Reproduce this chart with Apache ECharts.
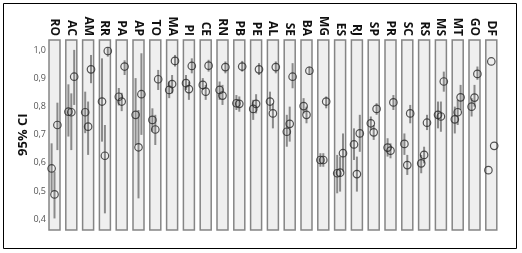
<!DOCTYPE html>
<html>
<head>
<meta charset="utf-8">
<script src="https://cdn.jsdelivr.net/npm/echarts@6/dist/echarts.min.js"></script>
<style>
html,body{margin:0;padding:0;background:#fff;}
#chart{width:522px;height:253px;}
</style>
</head>
<body>
<div id="chart"></div>
<script>
// Panel (state) labels
const states = ['RO','AC','AM','RR','PA','AP','TO','MA','PI','CE','RN','PB','PE','AL','SE','BA','MG','ES','RJ','SP','PR','SC','RS','MS','MT','GO','DF'];

// Point 1 (left) estimates and 95% CI
const est1 = [0.580,0.781,0.779,0.817,0.834,0.770,0.752,0.858,0.882,0.876,0.858,0.811,0.791,0.817,0.710,0.801,0.610,0.563,0.665,0.740,0.654,0.667,0.598,0.770,0.754,0.799,0.574];
const lo1  = [0.498,0.693,0.705,0.675,0.803,0.663,0.710,0.829,0.858,0.858,0.823,0.787,0.752,0.787,0.657,0.775,0.586,0.492,0.610,0.716,0.622,0.628,0.563,0.722,0.704,0.764,null];
const hi1  = [0.669,0.878,0.852,0.970,0.865,0.900,0.793,0.888,0.911,0.900,0.888,0.840,0.823,0.852,0.770,0.829,0.634,0.628,0.722,0.764,0.687,0.704,0.628,0.817,0.799,0.829,null];

// Point 2 (middle) estimates and 95% CI
const est2 = [0.488,0.779,0.728,0.625,0.817,0.655,0.718,0.879,0.861,0.852,0.838,0.809,0.809,0.775,0.738,0.770,0.610,0.565,0.560,0.708,0.643,0.592,0.628,0.764,0.779,0.831,0.959];
const lo2  = [0.403,0.645,0.628,0.421,0.783,0.474,0.663,0.846,0.823,0.823,0.805,0.781,0.775,0.722,0.675,0.740,0.586,0.498,0.498,0.681,0.616,0.557,0.598,0.710,0.734,0.799,null];
const hi2  = [0.569,0.846,0.817,0.734,0.848,0.787,0.770,0.911,0.888,0.876,0.876,0.835,0.843,0.811,0.799,0.799,0.634,0.622,0.622,0.734,0.669,0.628,0.657,0.817,0.823,0.876,null];

// Point 3 (right) estimates and 95% CI
const est3 = [0.734,0.905,0.931,0.996,0.941,0.843,0.896,0.961,0.943,0.944,0.939,0.941,0.931,0.939,0.905,0.926,0.817,0.634,0.704,0.791,0.814,0.775,0.742,0.888,0.832,0.915,0.660];
const lo3  = [0.645,0.805,0.882,0.976,0.911,0.699,0.858,0.941,0.917,0.923,0.917,0.923,0.911,0.917,0.864,0.911,0.793,0.569,0.639,0.770,0.787,0.740,0.716,0.852,0.787,0.894,null];
const hi3  = [0.813,1.000,0.982,1.010,0.963,0.988,0.929,0.982,0.970,0.965,0.959,0.961,0.953,0.959,0.953,0.941,0.835,0.704,0.770,0.811,0.840,0.805,0.770,0.923,0.876,0.941,null];

// Y tick labels
const yTicks = [0.4,0.5,0.6,0.7,0.8,0.9,1.0];

const ests = [est1, est2, est3];
const los = [lo1, lo2, lo3];
const his = [hi1, hi2, hi3];

const chart = echarts.init(document.getElementById('chart'), null, {renderer:'canvas'});

const grids = [], xAxes = [], yAxes = [], series = [];
const FONT = '"Open Sans", "Liberation Sans", sans-serif';
const panelLeft = 49, pitch = 16.8, panelW = 11, panelTop = 40, panelH = 190;
const yMin = 0.362, yMax = 1.035;

states.forEach((st, i) => {
  grids.push({
    left: panelLeft + i * pitch, top: panelTop, width: panelW, height: panelH,
    show: true, backgroundColor: '#efefef', borderColor: '#858585', borderWidth: 1.5
  });
  // header label axis (top)
  xAxes.push({
    gridIndex: i, type: 'category', position: 'top', data: [st],
    axisLine: {show: false}, axisTick: {show: false}, splitLine: {show: false},
    axisLabel: {rotate: 90, margin: 4, fontSize: 12, fontWeight: 'bold', color: '#111', fontFamily: FONT, interval: 0}
  });
  // value axis for points (hidden)
  xAxes.push({
    gridIndex: i, type: 'value', min: -0.9, max: 2.9, show: false
  });
  yAxes.push({
    gridIndex: i, type: 'value', min: yMin, max: yMax, show: false
  });
  const bars = [], pts = [];
  for (let k = 0; k < 3; k++) {
    pts.push([k, ests[k][i]]);
    if (los[k][i] != null && his[k][i] != null) bars.push([k, los[k][i], his[k][i]]);
  }
  series.push({
    type: 'custom', xAxisIndex: 2 * i + 1, yAxisIndex: i, silent: true,
    encode: {x: 0, y: [1, 2]},
    data: bars,
    renderItem: (params, api) => {
      const x = api.value(0);
      const a = api.coord([x, api.value(1)]);
      const b = api.coord([x, api.value(2)]);
      return {type: 'line', shape: {x1: a[0], y1: a[1], x2: b[0], y2: b[1]},
              style: {stroke: '#8a8a8a', lineWidth: 2}};
    },
    z: 2
  });
  series.push({
    type: 'scatter', xAxisIndex: 2 * i + 1, yAxisIndex: i, silent: true,
    data: pts, symbol: 'circle', symbolSize: 7.5,
    itemStyle: {color: 'rgba(255,255,255,0)', borderColor: '#2a2a2a', borderWidth: 1.2},
    z: 3
  });
});

// Axis with tick labels and title
const gi = states.length;
grids.push({left: panelLeft, top: 50, width: 1, height: 169.3, show: false});
xAxes.push({gridIndex: gi, type: 'value', show: false});
yAxes.push({
  gridIndex: gi, type: 'value', min: yTicks[0], max: yTicks[yTicks.length - 1], interval: 0.1,
  position: 'left',
  axisLine: {show: false}, axisTick: {show: false}, splitLine: {show: false},
  axisLabel: {margin: 3, fontSize: 9, color: '#555', fontFamily: FONT,
              formatter: v => v.toFixed(1).replace('.', ',')},
  name: '95% CI', nameLocation: 'middle', nameRotate: 90, nameGap: 19,
  nameTextStyle: {fontSize: 13, fontWeight: 'bold', color: '#111', fontFamily: FONT}
});

chart.setOption({
  animation: false,
  backgroundColor: '#fff',
  grid: grids, xAxis: xAxes, yAxis: yAxes, series: series,
  graphic: [{type: 'rect', shape: {x: 3.5, y: 3.5, width: 513, height: 245},
             style: {fill: 'none', stroke: '#000', lineWidth: 1}, silent: true}]
});
</script>
</body>
</html>
